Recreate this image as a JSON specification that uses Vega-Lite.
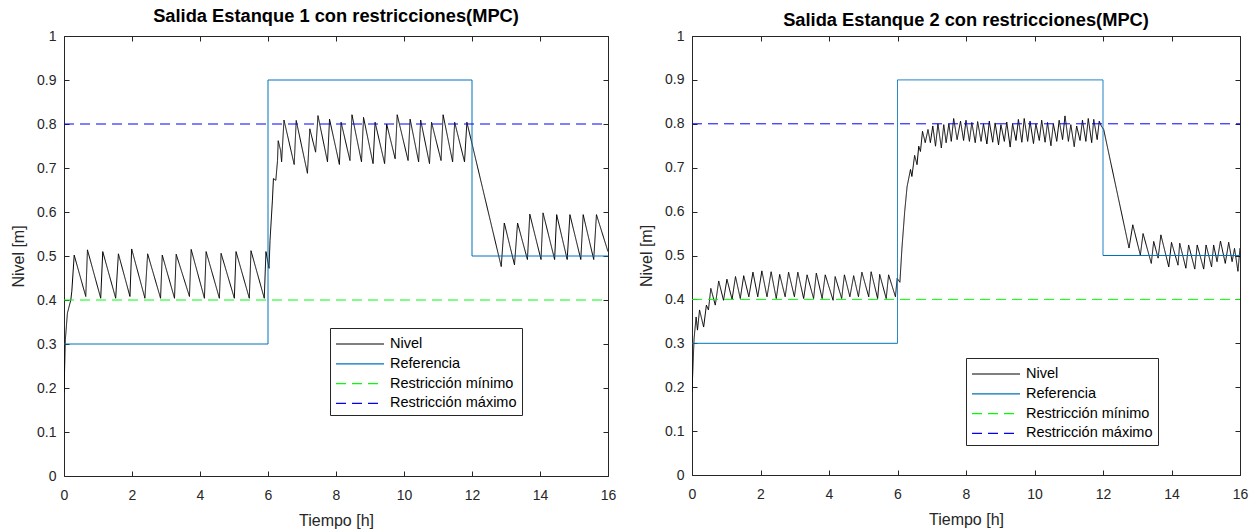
{
  "$schema": "https://vega.github.io/schema/vega-lite/v6.json",
  "background": "white",
  "padding": {"left": 10, "top": 6, "right": 5, "bottom": 5},
  "config": {
    "font": "Liberation Sans",
    "view": {"stroke": "#262626", "strokeWidth": 1},
    "axis": {"domain": false, "grid": false, "tickColor": "#262626", "tickSize": -5, "labelColor": "#262626", "labelFontSize": 14, "labelFont": "Liberation Sans", "titleFont": "Liberation Sans", "titleFontSize": 16, "titleFontWeight": "normal", "titleColor": "#262626", "labelFlush": false, "labelOverlap": false, "labelBound": false},
    "axisX": {"labelPadding": 17, "titlePadding": 10},
    "axisY": {"labelPadding": 13, "titlePadding": 10},
    "title": {"fontSize": 18.3, "fontWeight": "bold", "font": "Liberation Sans", "color": "#000000", "offset": 3},
    "legend": {"orient": "none", "symbolType": "M-2.4,0H2.4", "symbolSize": 400, "symbolStrokeWidth": 1.2, "labelFontSize": 14.5, "labelFont": "Liberation Sans", "labelColor": "#000000", "strokeColor": "#262626", "fillColor": "white", "padding": 5, "rowPadding": 1.8, "labelOffset": 19, "symbolOffset": 14}
  },
  "datasets": {
    "p1": [
      {"t": 0, "v": 0.19, "s": "Nivel"}, {"t": 0.04, "v": 0.31, "s": "Nivel"}, {"t": 0.1, "v": 0.37, "s": "Nivel"}, {"t": 0.2, "v": 0.4, "s": "Nivel"}, {"t": 0.23, "v": 0.42, "s": "Nivel"}, {"t": 0.3, "v": 0.502, "s": "Nivel"},
      {"t": 0.64, "v": 0.408, "s": "Nivel"}, {"t": 0.69, "v": 0.514, "s": "Nivel"},
      {"t": 1.08, "v": 0.404, "s": "Nivel"}, {"t": 1.14, "v": 0.51, "s": "Nivel"},
      {"t": 1.52, "v": 0.404, "s": "Nivel"}, {"t": 1.6, "v": 0.505, "s": "Nivel"},
      {"t": 1.94, "v": 0.408, "s": "Nivel"}, {"t": 1.99, "v": 0.516, "s": "Nivel"},
      {"t": 2.38, "v": 0.404, "s": "Nivel"}, {"t": 2.46, "v": 0.505, "s": "Nivel"},
      {"t": 2.84, "v": 0.404, "s": "Nivel"}, {"t": 2.89, "v": 0.502, "s": "Nivel"},
      {"t": 3.25, "v": 0.404, "s": "Nivel"}, {"t": 3.3, "v": 0.504, "s": "Nivel"},
      {"t": 3.69, "v": 0.408, "s": "Nivel"}, {"t": 3.74, "v": 0.515, "s": "Nivel"},
      {"t": 4.13, "v": 0.404, "s": "Nivel"}, {"t": 4.18, "v": 0.51, "s": "Nivel"},
      {"t": 4.57, "v": 0.404, "s": "Nivel"}, {"t": 4.62, "v": 0.506, "s": "Nivel"},
      {"t": 5.01, "v": 0.404, "s": "Nivel"}, {"t": 5.06, "v": 0.51, "s": "Nivel"},
      {"t": 5.45, "v": 0.404, "s": "Nivel"}, {"t": 5.5, "v": 0.512, "s": "Nivel"},
      {"t": 5.89, "v": 0.404, "s": "Nivel"}, {"t": 5.94, "v": 0.51, "s": "Nivel"},
      {"t": 6.03, "v": 0.472, "s": "Nivel"}, {"t": 6.06, "v": 0.536, "s": "Nivel"}, {"t": 6.13, "v": 0.627, "s": "Nivel"}, {"t": 6.16, "v": 0.676, "s": "Nivel"}, {"t": 6.23, "v": 0.672, "s": "Nivel"}, {"t": 6.28, "v": 0.717, "s": "Nivel"}, {"t": 6.3, "v": 0.762, "s": "Nivel"}, {"t": 6.37, "v": 0.74, "s": "Nivel"}, {"t": 6.4, "v": 0.714, "s": "Nivel"}, {"t": 6.47, "v": 0.809, "s": "Nivel"},
      {"t": 6.77, "v": 0.708, "s": "Nivel"}, {"t": 6.83, "v": 0.808, "s": "Nivel"},
      {"t": 7.16, "v": 0.688, "s": "Nivel"}, {"t": 7.23, "v": 0.789, "s": "Nivel"},
      {"t": 7.4, "v": 0.736, "s": "Nivel"}, {"t": 7.47, "v": 0.819, "s": "Nivel"},
      {"t": 7.75, "v": 0.714, "s": "Nivel"}, {"t": 7.81, "v": 0.811, "s": "Nivel"},
      {"t": 8.1, "v": 0.708, "s": "Nivel"}, {"t": 8.15, "v": 0.804, "s": "Nivel"},
      {"t": 8.41, "v": 0.717, "s": "Nivel"}, {"t": 8.47, "v": 0.821, "s": "Nivel"},
      {"t": 8.75, "v": 0.714, "s": "Nivel"}, {"t": 8.81, "v": 0.815, "s": "Nivel"},
      {"t": 9.09, "v": 0.71, "s": "Nivel"}, {"t": 9.15, "v": 0.804, "s": "Nivel"},
      {"t": 9.43, "v": 0.71, "s": "Nivel"}, {"t": 9.49, "v": 0.8, "s": "Nivel"},
      {"t": 9.74, "v": 0.721, "s": "Nivel"}, {"t": 9.8, "v": 0.821, "s": "Nivel"},
      {"t": 10.12, "v": 0.717, "s": "Nivel"}, {"t": 10.18, "v": 0.811, "s": "Nivel"},
      {"t": 10.43, "v": 0.714, "s": "Nivel"}, {"t": 10.49, "v": 0.809, "s": "Nivel"},
      {"t": 10.75, "v": 0.71, "s": "Nivel"}, {"t": 10.81, "v": 0.804, "s": "Nivel"},
      {"t": 11.09, "v": 0.717, "s": "Nivel"}, {"t": 11.15, "v": 0.821, "s": "Nivel"},
      {"t": 11.43, "v": 0.714, "s": "Nivel"}, {"t": 11.49, "v": 0.804, "s": "Nivel"},
      {"t": 11.78, "v": 0.714, "s": "Nivel"}, {"t": 11.85, "v": 0.804, "s": "Nivel"},
      {"t": 12.86, "v": 0.476, "s": "Nivel"}, {"t": 12.95, "v": 0.575, "s": "Nivel"},
      {"t": 13.25, "v": 0.48, "s": "Nivel"}, {"t": 13.34, "v": 0.575, "s": "Nivel"},
      {"t": 13.63, "v": 0.492, "s": "Nivel"}, {"t": 13.7, "v": 0.595, "s": "Nivel"},
      {"t": 14.03, "v": 0.492, "s": "Nivel"}, {"t": 14.09, "v": 0.598, "s": "Nivel"},
      {"t": 14.43, "v": 0.492, "s": "Nivel"}, {"t": 14.49, "v": 0.594, "s": "Nivel"},
      {"t": 14.8, "v": 0.492, "s": "Nivel"}, {"t": 14.88, "v": 0.594, "s": "Nivel"},
      {"t": 15.2, "v": 0.492, "s": "Nivel"}, {"t": 15.27, "v": 0.594, "s": "Nivel"},
      {"t": 15.58, "v": 0.492, "s": "Nivel"}, {"t": 15.66, "v": 0.594, "s": "Nivel"},
      {"t": 16, "v": 0.51, "s": "Nivel"},
      {"t": 0, "v": 0.3, "s": "Referencia"}, {"t": 6, "v": 0.3, "s": "Referencia"}, {"t": 6, "v": 0.9, "s": "Referencia"}, {"t": 12, "v": 0.9, "s": "Referencia"}, {"t": 12, "v": 0.5, "s": "Referencia"}, {"t": 16, "v": 0.5, "s": "Referencia"},
      {"t": 0, "v": 0.4, "s": "Restricción mínimo"}, {"t": 16, "v": 0.4, "s": "Restricción mínimo"},
      {"t": 0, "v": 0.8, "s": "Restricción máximo"}, {"t": 16, "v": 0.8, "s": "Restricción máximo"}
    ],
    "p2": [
      {"t": 0, "v": 0.19, "s": "Nivel"}, {"t": 0.06, "v": 0.31, "s": "Nivel"}, {"t": 0.12, "v": 0.36, "s": "Nivel"}, {"t": 0.16, "v": 0.33, "s": "Nivel"}, {"t": 0.22, "v": 0.376, "s": "Nivel"}, {"t": 0.34, "v": 0.337, "s": "Nivel"}, {"t": 0.42, "v": 0.387, "s": "Nivel"}, {"t": 0.48, "v": 0.376, "s": "Nivel"}, {"t": 0.55, "v": 0.425, "s": "Nivel"}, {"t": 0.68, "v": 0.387, "s": "Nivel"}, {"t": 0.78, "v": 0.442, "s": "Nivel"}, {"t": 0.92, "v": 0.398, "s": "Nivel"}, {"t": 1.02, "v": 0.446, "s": "Nivel"}, {"t": 1.17, "v": 0.4, "s": "Nivel"}, {"t": 1.27, "v": 0.452, "s": "Nivel"}, {"t": 1.41, "v": 0.402, "s": "Nivel"}, {"t": 1.51, "v": 0.454, "s": "Nivel"}, {"t": 1.66, "v": 0.406, "s": "Nivel"}, {"t": 1.78, "v": 0.462, "s": "Nivel"}, {"t": 1.92, "v": 0.406, "s": "Nivel"}, {"t": 2.04, "v": 0.465, "s": "Nivel"}, {"t": 2.19, "v": 0.406, "s": "Nivel"}, {"t": 2.31, "v": 0.463, "s": "Nivel"}, {"t": 2.46, "v": 0.402, "s": "Nivel"}, {"t": 2.56, "v": 0.457, "s": "Nivel"}, {"t": 2.72, "v": 0.406, "s": "Nivel"}, {"t": 2.82, "v": 0.462, "s": "Nivel"}, {"t": 2.99, "v": 0.406, "s": "Nivel"}, {"t": 3.09, "v": 0.462, "s": "Nivel"}, {"t": 3.26, "v": 0.402, "s": "Nivel"}, {"t": 3.36, "v": 0.456, "s": "Nivel"}, {"t": 3.55, "v": 0.402, "s": "Nivel"}, {"t": 3.63, "v": 0.46, "s": "Nivel"}, {"t": 3.8, "v": 0.402, "s": "Nivel"}, {"t": 3.89, "v": 0.456, "s": "Nivel"}, {"t": 4.12, "v": 0.398, "s": "Nivel"}, {"t": 4.18, "v": 0.452, "s": "Nivel"}, {"t": 4.37, "v": 0.402, "s": "Nivel"}, {"t": 4.45, "v": 0.456, "s": "Nivel"}, {"t": 4.61, "v": 0.406, "s": "Nivel"}, {"t": 4.72, "v": 0.454, "s": "Nivel"}, {"t": 4.86, "v": 0.406, "s": "Nivel"}, {"t": 4.96, "v": 0.462, "s": "Nivel"}, {"t": 5.16, "v": 0.406, "s": "Nivel"}, {"t": 5.23, "v": 0.463, "s": "Nivel"}, {"t": 5.42, "v": 0.402, "s": "Nivel"}, {"t": 5.48, "v": 0.457, "s": "Nivel"}, {"t": 5.67, "v": 0.402, "s": "Nivel"}, {"t": 5.74, "v": 0.456, "s": "Nivel"}, {"t": 5.94, "v": 0.406, "s": "Nivel"}, {"t": 5.99, "v": 0.448, "s": "Nivel"}, {"t": 6.07, "v": 0.439, "s": "Nivel"}, {"t": 6.13, "v": 0.517, "s": "Nivel"}, {"t": 6.21, "v": 0.6, "s": "Nivel"}, {"t": 6.28, "v": 0.657, "s": "Nivel"}, {"t": 6.38, "v": 0.696, "s": "Nivel"}, {"t": 6.42, "v": 0.68, "s": "Nivel"}, {"t": 6.5, "v": 0.728, "s": "Nivel"}, {"t": 6.57, "v": 0.707, "s": "Nivel"}, {"t": 6.62, "v": 0.749, "s": "Nivel"}, {"t": 6.67, "v": 0.737, "s": "Nivel"}, {"t": 6.73, "v": 0.783, "s": "Nivel"}, {"t": 6.81, "v": 0.757, "s": "Nivel"}, {"t": 6.89, "v": 0.787, "s": "Nivel"}, {"t": 6.96, "v": 0.757, "s": "Nivel"}, {"t": 7.03, "v": 0.795, "s": "Nivel"}, {"t": 7.11, "v": 0.749, "s": "Nivel"}, {"t": 7.18, "v": 0.8, "s": "Nivel"}, {"t": 7.28, "v": 0.745, "s": "Nivel"}, {"t": 7.35, "v": 0.798, "s": "Nivel"}, {"t": 7.42, "v": 0.757, "s": "Nivel"}, {"t": 7.5, "v": 0.8, "s": "Nivel"}, {"t": 7.57, "v": 0.76, "s": "Nivel"}, {"t": 7.64, "v": 0.812, "s": "Nivel"}, {"t": 7.74, "v": 0.764, "s": "Nivel"}, {"t": 7.84, "v": 0.806, "s": "Nivel"},
      {"t": 7.93, "v": 0.762, "s": "Nivel"}, {"t": 8.0, "v": 0.808, "s": "Nivel"}, {"t": 8.1, "v": 0.76, "s": "Nivel"}, {"t": 8.17, "v": 0.803, "s": "Nivel"}, {"t": 8.27, "v": 0.757, "s": "Nivel"}, {"t": 8.34, "v": 0.805, "s": "Nivel"}, {"t": 8.44, "v": 0.76, "s": "Nivel"}, {"t": 8.51, "v": 0.8, "s": "Nivel"}, {"t": 8.61, "v": 0.754, "s": "Nivel"}, {"t": 8.68, "v": 0.806, "s": "Nivel"}, {"t": 8.78, "v": 0.758, "s": "Nivel"}, {"t": 8.85, "v": 0.802, "s": "Nivel"}, {"t": 8.95, "v": 0.752, "s": "Nivel"}, {"t": 9.02, "v": 0.798, "s": "Nivel"}, {"t": 9.12, "v": 0.76, "s": "Nivel"}, {"t": 9.19, "v": 0.804, "s": "Nivel"}, {"t": 9.29, "v": 0.747, "s": "Nivel"}, {"t": 9.36, "v": 0.8, "s": "Nivel"}, {"t": 9.46, "v": 0.762, "s": "Nivel"}, {"t": 9.53, "v": 0.81, "s": "Nivel"}, {"t": 9.63, "v": 0.758, "s": "Nivel"}, {"t": 9.7, "v": 0.812, "s": "Nivel"}, {"t": 9.8, "v": 0.76, "s": "Nivel"}, {"t": 9.87, "v": 0.806, "s": "Nivel"}, {"t": 9.97, "v": 0.755, "s": "Nivel"}, {"t": 10.04, "v": 0.8, "s": "Nivel"}, {"t": 10.14, "v": 0.762, "s": "Nivel"}, {"t": 10.21, "v": 0.808, "s": "Nivel"}, {"t": 10.31, "v": 0.758, "s": "Nivel"}, {"t": 10.38, "v": 0.803, "s": "Nivel"}, {"t": 10.48, "v": 0.75, "s": "Nivel"}, {"t": 10.55, "v": 0.8, "s": "Nivel"}, {"t": 10.65, "v": 0.76, "s": "Nivel"}, {"t": 10.72, "v": 0.808, "s": "Nivel"}, {"t": 10.82, "v": 0.764, "s": "Nivel"}, {"t": 10.89, "v": 0.818, "s": "Nivel"}, {"t": 10.99, "v": 0.76, "s": "Nivel"}, {"t": 11.06, "v": 0.798, "s": "Nivel"}, {"t": 11.16, "v": 0.748, "s": "Nivel"}, {"t": 11.23, "v": 0.795, "s": "Nivel"}, {"t": 11.33, "v": 0.762, "s": "Nivel"}, {"t": 11.4, "v": 0.808, "s": "Nivel"}, {"t": 11.5, "v": 0.76, "s": "Nivel"}, {"t": 11.57, "v": 0.812, "s": "Nivel"}, {"t": 11.67, "v": 0.757, "s": "Nivel"}, {"t": 11.73, "v": 0.81, "s": "Nivel"}, {"t": 11.83, "v": 0.764, "s": "Nivel"}, {"t": 11.89, "v": 0.806, "s": "Nivel"}, {"t": 11.95, "v": 0.795, "s": "Nivel"}, {"t": 12.02, "v": 0.787, "s": "Nivel"},
      {"t": 12.76, "v": 0.517, "s": "Nivel"}, {"t": 12.87, "v": 0.57, "s": "Nivel"}, {"t": 13.09, "v": 0.501, "s": "Nivel"}, {"t": 13.17, "v": 0.55, "s": "Nivel"}, {"t": 13.41, "v": 0.482, "s": "Nivel"}, {"t": 13.48, "v": 0.532, "s": "Nivel"}, {"t": 13.61, "v": 0.494, "s": "Nivel"}, {"t": 13.69, "v": 0.547, "s": "Nivel"}, {"t": 13.92, "v": 0.474, "s": "Nivel"}, {"t": 14.0, "v": 0.53, "s": "Nivel"}, {"t": 14.19, "v": 0.478, "s": "Nivel"}, {"t": 14.24, "v": 0.528, "s": "Nivel"}, {"t": 14.42, "v": 0.471, "s": "Nivel"}, {"t": 14.5, "v": 0.524, "s": "Nivel"}, {"t": 14.68, "v": 0.469, "s": "Nivel"}, {"t": 14.75, "v": 0.524, "s": "Nivel"}, {"t": 14.94, "v": 0.469, "s": "Nivel"}, {"t": 15.01, "v": 0.524, "s": "Nivel"}, {"t": 15.17, "v": 0.474, "s": "Nivel"}, {"t": 15.23, "v": 0.524, "s": "Nivel"}, {"t": 15.33, "v": 0.486, "s": "Nivel"}, {"t": 15.43, "v": 0.533, "s": "Nivel"}, {"t": 15.57, "v": 0.482, "s": "Nivel"}, {"t": 15.67, "v": 0.53, "s": "Nivel"}, {"t": 15.77, "v": 0.486, "s": "Nivel"}, {"t": 15.84, "v": 0.516, "s": "Nivel"}, {"t": 15.94, "v": 0.464, "s": "Nivel"}, {"t": 16, "v": 0.517, "s": "Nivel"},
      {"t": 0, "v": 0.3, "s": "Referencia"}, {"t": 6, "v": 0.3, "s": "Referencia"}, {"t": 6, "v": 0.9, "s": "Referencia"}, {"t": 12, "v": 0.9, "s": "Referencia"}, {"t": 12, "v": 0.5, "s": "Referencia"}, {"t": 16, "v": 0.5, "s": "Referencia"},
      {"t": 0, "v": 0.4, "s": "Restricción mínimo"}, {"t": 16, "v": 0.4, "s": "Restricción mínimo"},
      {"t": 0, "v": 0.8, "s": "Restricción máximo"}, {"t": 16, "v": 0.8, "s": "Restricción máximo"}
    ]
  },
  "spacing": 21,
  "resolve": {"scale": {"color": "independent", "strokeDash": "independent"}},
  "hconcat": [
    {
      "width": 544,
      "height": 440,
      "title": {"text": "Salida Estanque 1 con restricciones(MPC)", "offset": 3},
      "data": {"name": "p1"},
      "resolve": {"axis": {"x": "independent", "y": "independent"}},
      "layer": [
        {
          "mark": {"type": "line", "strokeWidth": 1, "clip": true},
          "encoding": {
            "x": {"field": "t", "type": "quantitative", "scale": {"domain": [0, 16], "nice": false}, "axis": {"values": [0, 2, 4, 6, 8, 10, 12, 14, 16], "title": "Tiempo [h]"}},
            "y": {"field": "v", "type": "quantitative", "scale": {"domain": [0, 1], "nice": false, "zero": false}, "axis": {"values": [0, 0.1, 0.2, 0.3, 0.4, 0.5, 0.6, 0.7, 0.8, 0.9, 1], "format": ".1~f", "title": "Nivel [m]"}},
            "color": {"field": "s", "type": "nominal", "scale": {"domain": ["Nivel", "Referencia", "Restricción mínimo", "Restricción máximo"], "range": ["#000000", "#0072BD", "#00FF00", "#0000FF"]}, "legend": {"title": null, "legendX": 266, "legendY": 292}},
            "strokeDash": {"field": "s", "type": "nominal", "scale": {"domain": ["Nivel", "Referencia", "Restricción mínimo", "Restricción máximo"], "range": [[1, 0], [1, 0], [10, 6], [10, 6]]}, "legend": {"title": null, "legendX": 266, "legendY": 292}},
            "order": {"value": null}
          }
        },
        {
          "mark": {"type": "line", "opacity": 0},
          "encoding": {
            "x": {"field": "t", "type": "quantitative", "axis": {"orient": "top", "values": [0, 2, 4, 6, 8, 10, 12, 14, 16], "labels": false, "title": null}},
            "y": {"field": "v", "type": "quantitative", "axis": {"orient": "right", "values": [0, 0.1, 0.2, 0.3, 0.4, 0.5, 0.6, 0.7, 0.8, 0.9, 1], "labels": false, "title": null}}
          }
        }
      ]
    },
    {
      "width": 548,
      "height": 439,
      "title": {"text": "Salida Estanque 2 con restricciones(MPC)", "offset": -1},
      "data": {"name": "p2"},
      "resolve": {"axis": {"x": "independent", "y": "independent"}},
      "layer": [
        {
          "mark": {"type": "line", "strokeWidth": 1, "clip": true},
          "encoding": {
            "x": {"field": "t", "type": "quantitative", "scale": {"domain": [0, 16], "nice": false}, "axis": {"values": [0, 2, 4, 6, 8, 10, 12, 14, 16], "title": "Tiempo [h]"}},
            "y": {"field": "v", "type": "quantitative", "scale": {"domain": [0, 1], "nice": false, "zero": false}, "axis": {"values": [0, 0.1, 0.2, 0.3, 0.4, 0.5, 0.6, 0.7, 0.8, 0.9, 1], "format": ".1~f", "title": "Nivel [m]"}},
            "color": {"field": "s", "type": "nominal", "scale": {"domain": ["Nivel", "Referencia", "Restricción mínimo", "Restricción máximo"], "range": ["#000000", "#0072BD", "#00FF00", "#0000FF"]}, "legend": {"title": null, "legendX": 274, "legendY": 322}},
            "strokeDash": {"field": "s", "type": "nominal", "scale": {"domain": ["Nivel", "Referencia", "Restricción mínimo", "Restricción máximo"], "range": [[1, 0], [1, 0], [10, 6], [10, 6]]}, "legend": {"title": null, "legendX": 274, "legendY": 322}},
            "order": {"value": null}
          }
        },
        {
          "mark": {"type": "line", "opacity": 0},
          "encoding": {
            "x": {"field": "t", "type": "quantitative", "axis": {"orient": "top", "values": [0, 2, 4, 6, 8, 10, 12, 14, 16], "labels": false, "title": null}},
            "y": {"field": "v", "type": "quantitative", "axis": {"orient": "right", "values": [0, 0.1, 0.2, 0.3, 0.4, 0.5, 0.6, 0.7, 0.8, 0.9, 1], "labels": false, "title": null}}
          }
        }
      ]
    }
  ]
}
